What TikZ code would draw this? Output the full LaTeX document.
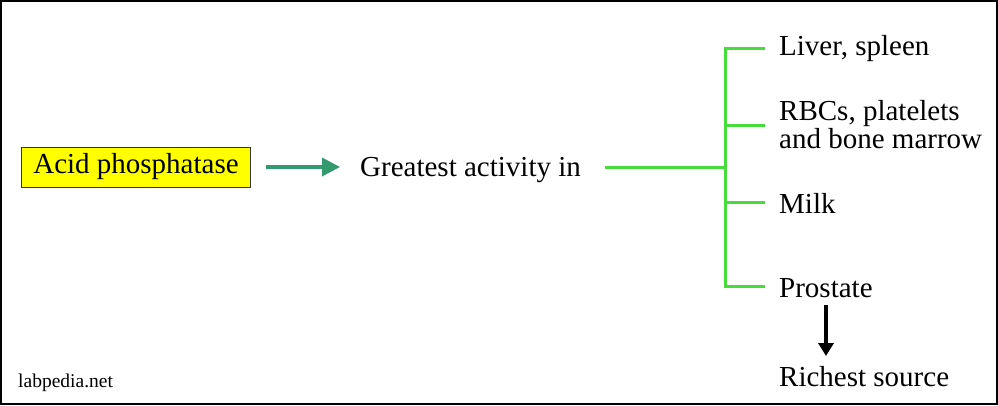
\documentclass[tikz,border=0pt]{standalone}
\usepackage{fontspec}
\setmainfont{Liberation Serif}
\usetikzlibrary{arrows.meta}
\definecolor{boxyellow}{RGB}{255,255,0}
\definecolor{tealarrow}{RGB}{51,153,110}
\definecolor{branchgreen}{RGB}{70,220,60}
\newcommand{\bigtxt}{\fontsize{29}{26}\selectfont}
\tikzset{
  txt/.style={anchor=base west, inner sep=0pt, font=\bigtxt},
  branch/.style={draw=branchgreen, line width=3pt},
}
\begin{document}
\begin{tikzpicture}[x=1pt,y=-1pt]
\draw[line width=2pt] (1,1) rectangle (997,404);
\useasboundingbox (0,0) rectangle (998,405);
\node[draw=black!80, line width=0.8pt, fill=boxyellow, minimum width=229pt, minimum height=40pt, inner sep=0pt, font=\bigtxt] (acid) at (136,167) {Acid phosphatase};
\node[txt] (great) at (360,176) {Greatest activity in};
\node[txt] (liver) at (779,55) {Liver, spleen};
\node[txt, align=left] (rbc) at (779,148) {RBCs, platelets\\and bone marrow};
\node[txt] (milk) at (779,213) {Milk};
\node[txt] (prost) at (779,297) {Prostate};
\node[txt] (rich) at (779,386) {Richest source};
\node[anchor=base west, inner sep=0pt, font=\fontsize{19.5}{20}\selectfont] (lab) at (18,387) {labpedia.net};
\coordinate (a1) at (266,167);
\coordinate (a2) at (340,167);
\draw[tealarrow, line width=3.5pt, -{Triangle[length=18pt,width=18pt]}] (a1) -- (a2);
\coordinate (g0) at (605,167);
\coordinate (g1) at (725,167);
\coordinate (top) at (725,48);
\coordinate (bot) at (725,286);
\draw[branch] (g0) -- (g1);
\draw[branch] (765,48) -- (top) -- (bot) -- (765,286);
\draw[branch] (725,125) -- (765,125);
\draw[branch] (725,202) -- (765,202);
\coordinate (b1) at (826,305);
\coordinate (b2) at (826,356);
\draw[black, line width=3.8pt, -{Triangle[length=13pt,width=15pt]}] (b1) -- (b2);
\end{tikzpicture}
\end{document}
